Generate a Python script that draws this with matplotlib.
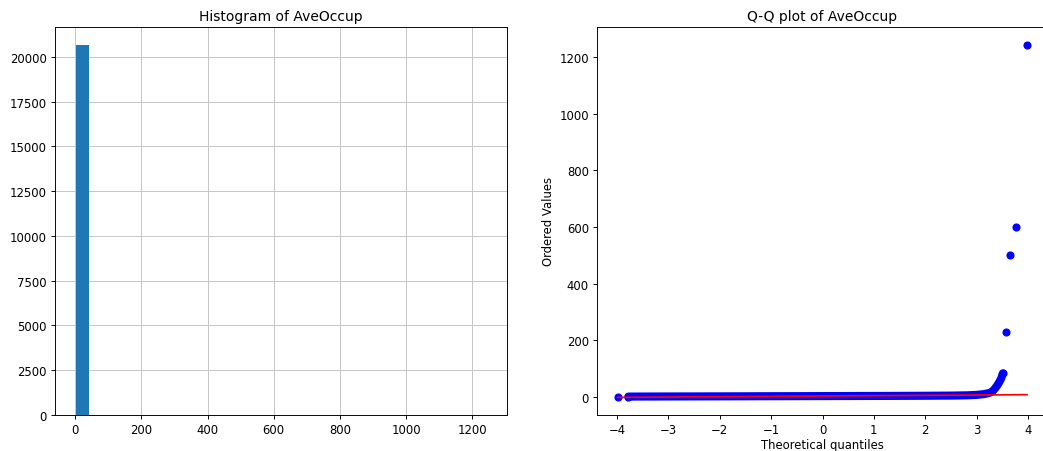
import numpy as np
import matplotlib
matplotlib.use("Agg")
import matplotlib.pyplot as plt

# ---------------- data ----------------
# Histogram of AveOccup: 30 equal bins between min and max
data_min = 0.692
data_max = 1243.333
n_bins = 30
bin_counts = [20629, 7, 0, 0, 0, 1, 0, 0, 0, 0,
              0, 0, 1, 0, 1, 0, 0, 0, 0, 0,
              0, 0, 0, 0, 0, 0, 0, 0, 0, 1]

# Q-Q plot: dense band of ordered values
qq_band_theoretical = [-3.78, -3.6, -3.3, -3.0, -2.5, -2.0, -1.5, -1.0, -0.5, 0.0,
                       0.5, 1.0, 1.5, 2.0, 2.5, 2.8, 3.0, 3.15, 3.25, 3.3,
                       3.35, 3.4, 3.44, 3.48, 3.51]
qq_band_values = [1.06, 1.2, 1.35, 1.5, 1.7, 1.9, 2.15, 2.4, 2.6, 2.82,
                  3.05, 3.3, 3.6, 4.0, 4.6, 5.5, 7.0, 10.0, 14.0, 18.0,
                  28.0, 40.0, 52.0, 66.0, 83.0]
# isolated points
qq_point_theoretical = [-3.98, 3.57, 3.65, 3.77, 3.98]
qq_point_values = [0.69, 230.2, 502.5, 599.7, 1243.3]

# least-squares fit line of the probability plot
fit_slope = 1.2
fit_intercept = 3.07
fit_x_range = [-3.98, 3.98]

# ---------------- style ----------------
s = 0.835
plt.rcParams.update({
    "font.size": 10 * s,
    "axes.linewidth": 0.8 * s,
    "xtick.major.width": 0.8 * s,
    "ytick.major.width": 0.8 * s,
    "xtick.major.size": 3.5 * s,
    "ytick.major.size": 3.5 * s,
    "xtick.major.pad": 3.5 * s,
    "ytick.major.pad": 3.5 * s,
    "axes.titlesize": 12 * s,
    "axes.labelsize": 10 * s,
    "xtick.labelsize": 10 * s,
    "ytick.labelsize": 10 * s,
    "axes.titlepad": 6 * s,
    "axes.labelpad": 4 * s,
    "grid.linewidth": 0.8 * s,
})

W, H = 1043, 452
fig = plt.figure(figsize=(W / 100, H / 100), dpi=100)

ax1 = fig.add_axes([55 / W, 36 / H, (507 - 55) / W, (416 - 28) / H])
ax2 = fig.add_axes([597 / W, 36 / H, (1047 - 597) / W, (416 - 28) / H])

# ---------------- histogram ----------------
edges = np.linspace(data_min, data_max, n_bins + 1)
centers = (edges[:-1] + edges[1:]) / 2
ax1.hist(centers, bins=edges, weights=bin_counts, color="#1f77b4", zorder=2)
ax1.grid(True, color="#c4c4c4", zorder=0)
ax1.set_axisbelow(True)
ax1.set_title("Histogram of AveOccup")
ax1.set_xticks([0, 200, 400, 600, 800, 1000, 1200])
ax1.set_yticks([0, 2500, 5000, 7500, 10000, 12500, 15000, 17500, 20000])

# ---------------- Q-Q plot ----------------
ms = 6 * s
ax2.plot(qq_band_theoretical, qq_band_values, color="blue", linewidth=ms + 1.0 * s,
         solid_capstyle="round", solid_joinstyle="round")
ax2.plot([qq_band_theoretical[0], qq_band_theoretical[-1]] + qq_point_theoretical,
         [qq_band_values[0], qq_band_values[-1]] + qq_point_values,
         "bo", markersize=ms, markeredgewidth=1.0 * s)
fx = np.array(fit_x_range)
ax2.plot(fx, fit_intercept + fit_slope * fx, "r-", linewidth=1.5 * s)
ax2.set_title("Q-Q plot of AveOccup")
ax2.set_xlabel("Theoretical quantiles", labelpad=1.0)
ax2.set_ylabel("Ordered Values")
ax2.set_xlim(-4.39, 4.37)
ax2.set_ylim(-64, 1307)
ax2.set_xticks([-4, -3, -2, -1, 0, 1, 2, 3, 4])
ax2.set_yticks([0, 200, 400, 600, 800, 1000, 1200])

fig.savefig("out.png", dpi=100)
